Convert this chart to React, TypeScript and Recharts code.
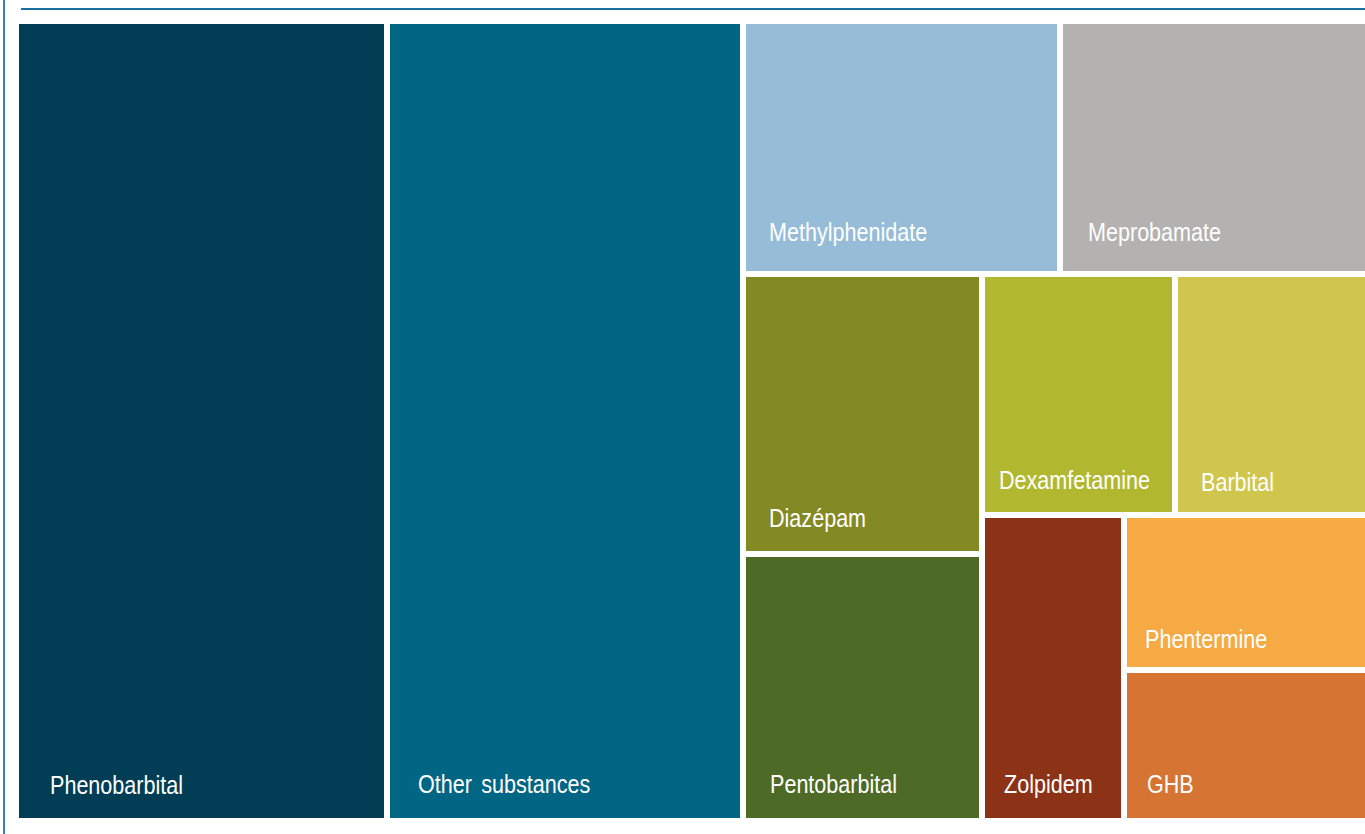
import { Treemap } from "recharts"

// share of seizures by substance (%)
const substances = [
  "Phenobarbital",
  "Other substances",
  "Methylphenidate",
  "Meprobamate",
  "Diazépam",
  "Pentobarbital",
  "Dexamfetamine",
  "Barbital",
  "Zolpidem",
  "Phentermine",
  "GHB",
]

const shares = [27.4, 26.3, 7.4, 7.2, 6.2, 5.9, 4.3, 4.3, 4.0, 3.5, 3.4]

// how the tiles are grouped (indices into the arrays above)
const grouping: any[] = [0, 1, [[2, 3], [[4, 5], [[6, 7], [8, [9, 10]]]]]]

const colors: Record<string, string> = {
  Phenobarbital: "#013d55",
  "Other substances": "#016584",
  Methylphenidate: "#96bcd8",
  Meprobamate: "#b3b2b0",
  "Diazépam": "#838923",
  Pentobarbital: "#4e6a27",
  Dexamfetamine: "#b1b82f",
  Barbital: "#d0c64d",
  Zolpidem: "#8c3216",
  Phentermine: "#f6aa43",
  GHB: "#d67434",
}

// label offsets inside each tile: [from left, from bottom to baseline]
const labelPos: Record<string, [number, number]> = {
  Phenobarbital: [34, 27],
  "Other substances": [31, 28],
  Methylphenidate: [26, 33],
  Meprobamate: [28, 33],
  "Diazépam": [26, 27],
  Pentobarbital: [27, 28],
  Dexamfetamine: [17, 26],
  Barbital: [26, 24],
  Zolpidem: [22, 28],
  Phentermine: [21, 22],
  GHB: [23, 28],
}

const build = (g: any): any =>
  Array.isArray(g)
    ? { name: "", children: g.map(build) }
    : { name: substances[g], value: shares[g] }

const data = grouping.map(build)

function TreeCell(props: any) {
  const { x, y, width, height, name, children } = props
  if (children && children.length) return null
  if (!name) return null
  const [dx, dy] = labelPos[name] || [24, 28]
  return (
    <g>
      <rect
        x={x}
        y={y}
        width={width}
        height={height}
        fill={colors[name]}
        stroke="#ffffff"
        strokeWidth={6}
      />
      <text
        transform={`translate(${x + dx},${y + height - dy}) scale(0.83,1)`}
        x={0}
        y={0}
        fill="#ffffff"
        fontSize={26}
        fontFamily="'Liberation Sans', Arial, sans-serif"
        wordSpacing={4}
      >
        {name}
      </text>
    </g>
  )
}

export default function App() {
  return (
    <div
      style={{
        position: "absolute",
        left: 0,
        top: 0,
        width: 1365,
        height: 834,
        overflow: "hidden",
        background: "#ffffff",
      }}
    >
      <div
        style={{
          position: "absolute",
          left: 3,
          top: 0,
          width: 2,
          height: 834,
          background: "#3584b8",
        }}
      />
      <div
        style={{
          position: "absolute",
          left: 21,
          top: 8,
          width: 1344,
          height: 2,
          background: "#1a6fa0",
        }}
      />
      <div style={{ position: "absolute", left: 16, top: 21 }}>
        <Treemap
          width={1352}
          height={800}
          data={data}
          dataKey="value"
          aspectRatio={0.25}
          isAnimationActive={false}
          content={<TreeCell />}
        />
      </div>
    </div>
  )
}
